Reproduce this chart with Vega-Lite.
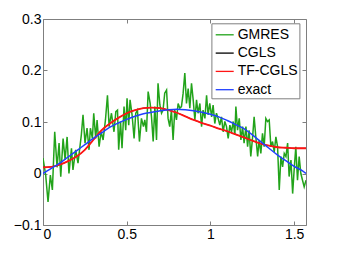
{
  "$schema": "https://vega.github.io/schema/vega-lite/v6.json",
  "width": 263,
  "height": 206,
  "autosize": {"type": "none"},
  "padding": {"left": 43, "top": 19, "right": 32, "bottom": 29},
  "background": "white",
  "config": {
    "view": {"stroke": null},
    "font": "Liberation Sans",
    "axis": {
      "domainColor": "#7f7f7f",
      "domainWidth": 1,
      "tickColor": "#7f7f7f",
      "tickSize": -4,
      "tickWidth": 1,
      "labelFont": "Liberation Sans",
      "labelFontSize": 14,
      "labelColor": "#000000",
      "labelPadding": 6,
      "grid": false,
      "title": null
    }
  },
  "datasets": {
    "gmres": [
      {"s":"GMRES","x":0.000,"y":0.030},{"s":"GMRES","x":0.016,"y":-0.003},{"s":"GMRES","x":0.030,"y":-0.055},{"s":"GMRES","x":0.044,"y":-0.003},
      {"s":"GMRES","x":0.056,"y":-0.032},{"s":"GMRES","x":0.070,"y":0.081},{"s":"GMRES","x":0.084,"y":0.012},{"s":"GMRES","x":0.096,"y":0.059},
      {"s":"GMRES","x":0.106,"y":-0.006},{"s":"GMRES","x":0.120,"y":0.068},{"s":"GMRES","x":0.132,"y":0.027},{"s":"GMRES","x":0.144,"y":0.071},
      {"s":"GMRES","x":0.155,"y":0.000},{"s":"GMRES","x":0.170,"y":0.049},{"s":"GMRES","x":0.179,"y":0.007},{"s":"GMRES","x":0.195,"y":0.046},
      {"s":"GMRES","x":0.209,"y":0.020},{"s":"GMRES","x":0.229,"y":0.075},{"s":"GMRES","x":0.239,"y":0.114},{"s":"GMRES","x":0.251,"y":0.059},
      {"s":"GMRES","x":0.263,"y":0.088},{"s":"GMRES","x":0.275,"y":0.046},{"s":"GMRES","x":0.283,"y":0.088},{"s":"GMRES","x":0.295,"y":0.068},
      {"s":"GMRES","x":0.303,"y":0.117},{"s":"GMRES","x":0.315,"y":0.068},{"s":"GMRES","x":0.323,"y":0.104},{"s":"GMRES","x":0.335,"y":0.052},
      {"s":"GMRES","x":0.347,"y":0.081},{"s":"GMRES","x":0.359,"y":0.065},{"s":"GMRES","x":0.373,"y":0.104},{"s":"GMRES","x":0.385,"y":0.152},
      {"s":"GMRES","x":0.395,"y":0.091},{"s":"GMRES","x":0.409,"y":0.117},{"s":"GMRES","x":0.424,"y":0.081},{"s":"GMRES","x":0.435,"y":0.120},
      {"s":"GMRES","x":0.445,"y":0.123},{"s":"GMRES","x":0.452,"y":0.046},{"s":"GMRES","x":0.463,"y":0.101},{"s":"GMRES","x":0.472,"y":0.049},
      {"s":"GMRES","x":0.484,"y":0.130},{"s":"GMRES","x":0.494,"y":0.084},{"s":"GMRES","x":0.502,"y":0.146},{"s":"GMRES","x":0.512,"y":0.094},
      {"s":"GMRES","x":0.520,"y":0.143},{"s":"GMRES","x":0.532,"y":0.114},{"s":"GMRES","x":0.544,"y":0.068},{"s":"GMRES","x":0.554,"y":0.117},
      {"s":"GMRES","x":0.564,"y":0.123},{"s":"GMRES","x":0.576,"y":0.062},{"s":"GMRES","x":0.588,"y":0.107},{"s":"GMRES","x":0.600,"y":0.091},
      {"s":"GMRES","x":0.608,"y":0.104},{"s":"GMRES","x":0.618,"y":0.081},{"s":"GMRES","x":0.628,"y":0.159},{"s":"GMRES","x":0.640,"y":0.136},
      {"s":"GMRES","x":0.648,"y":0.110},{"s":"GMRES","x":0.658,"y":0.062},{"s":"GMRES","x":0.668,"y":0.130},{"s":"GMRES","x":0.678,"y":0.065},
      {"s":"GMRES","x":0.687,"y":0.175},{"s":"GMRES","x":0.698,"y":0.133},{"s":"GMRES","x":0.708,"y":0.117},{"s":"GMRES","x":0.717,"y":0.123},
      {"s":"GMRES","x":0.727,"y":0.156},{"s":"GMRES","x":0.738,"y":0.162},{"s":"GMRES","x":0.747,"y":0.107},{"s":"GMRES","x":0.757,"y":0.091},
      {"s":"GMRES","x":0.767,"y":0.123},{"s":"GMRES","x":0.777,"y":0.065},{"s":"GMRES","x":0.787,"y":0.123},{"s":"GMRES","x":0.797,"y":0.104},
      {"s":"GMRES","x":0.807,"y":0.136},{"s":"GMRES","x":0.817,"y":0.127},{"s":"GMRES","x":0.827,"y":0.130},{"s":"GMRES","x":0.837,"y":0.156},
      {"s":"GMRES","x":0.847,"y":0.195},{"s":"GMRES","x":0.857,"y":0.136},{"s":"GMRES","x":0.867,"y":0.165},{"s":"GMRES","x":0.877,"y":0.127},
      {"s":"GMRES","x":0.887,"y":0.175},{"s":"GMRES","x":0.897,"y":0.143},{"s":"GMRES","x":0.907,"y":0.104},{"s":"GMRES","x":0.917,"y":0.143},
      {"s":"GMRES","x":0.926,"y":0.117},{"s":"GMRES","x":0.937,"y":0.136},{"s":"GMRES","x":0.947,"y":0.091},{"s":"GMRES","x":0.956,"y":0.123},
      {"s":"GMRES","x":0.967,"y":0.107},{"s":"GMRES","x":0.977,"y":0.152},{"s":"GMRES","x":0.986,"y":0.114},{"s":"GMRES","x":0.996,"y":0.136},
      {"s":"GMRES","x":1.007,"y":0.110},{"s":"GMRES","x":1.016,"y":0.133},{"s":"GMRES","x":1.026,"y":0.097},{"s":"GMRES","x":1.036,"y":0.117},
      {"s":"GMRES","x":1.046,"y":0.107},{"s":"GMRES","x":1.056,"y":0.094},{"s":"GMRES","x":1.066,"y":0.110},{"s":"GMRES","x":1.076,"y":0.081},
      {"s":"GMRES","x":1.086,"y":0.101},{"s":"GMRES","x":1.096,"y":0.091},{"s":"GMRES","x":1.106,"y":0.068},{"s":"GMRES","x":1.116,"y":0.094},
      {"s":"GMRES","x":1.126,"y":0.081},{"s":"GMRES","x":1.136,"y":0.101},{"s":"GMRES","x":1.146,"y":0.075},{"s":"GMRES","x":1.152,"y":0.130},
      {"s":"GMRES","x":1.162,"y":0.084},{"s":"GMRES","x":1.172,"y":0.107},{"s":"GMRES","x":1.182,"y":0.065},{"s":"GMRES","x":1.192,"y":0.091},
      {"s":"GMRES","x":1.201,"y":0.059},{"s":"GMRES","x":1.212,"y":0.091},{"s":"GMRES","x":1.222,"y":0.052},{"s":"GMRES","x":1.231,"y":0.084},
      {"s":"GMRES","x":1.241,"y":0.033},{"s":"GMRES","x":1.252,"y":0.071},{"s":"GMRES","x":1.261,"y":0.110},{"s":"GMRES","x":1.271,"y":0.071},
      {"s":"GMRES","x":1.282,"y":0.033},{"s":"GMRES","x":1.291,"y":0.065},{"s":"GMRES","x":1.301,"y":0.039},{"s":"GMRES","x":1.311,"y":0.078},
      {"s":"GMRES","x":1.321,"y":0.052},{"s":"GMRES","x":1.331,"y":0.107},{"s":"GMRES","x":1.341,"y":0.101},{"s":"GMRES","x":1.351,"y":0.104},
      {"s":"GMRES","x":1.361,"y":0.052},{"s":"GMRES","x":1.371,"y":0.062},{"s":"GMRES","x":1.381,"y":0.042},{"s":"GMRES","x":1.391,"y":0.071},
      {"s":"GMRES","x":1.401,"y":0.052},{"s":"GMRES","x":1.411,"y":-0.032},{"s":"GMRES","x":1.421,"y":0.033},{"s":"GMRES","x":1.431,"y":0.013},
      {"s":"GMRES","x":1.441,"y":0.039},{"s":"GMRES","x":1.451,"y":0.033},{"s":"GMRES","x":1.461,"y":0.059},{"s":"GMRES","x":1.470,"y":-0.006},
      {"s":"GMRES","x":1.481,"y":0.026},{"s":"GMRES","x":1.491,"y":-0.039},{"s":"GMRES","x":1.500,"y":0.007},{"s":"GMRES","x":1.510,"y":0.052},
      {"s":"GMRES","x":1.520,"y":-0.013},{"s":"GMRES","x":1.530,"y":0.033},{"s":"GMRES","x":1.540,"y":0.000},{"s":"GMRES","x":1.550,"y":-0.013},
      {"s":"GMRES","x":1.560,"y":-0.026},{"s":"GMRES","x":1.5708,"y":-0.013}
    ],
    "cgls": [
      {"s":"CGLS","x":0.00,"y":0.012},{"s":"CGLS","x":0.05,"y":0.013},{"s":"CGLS","x":0.10,"y":0.017},{"s":"CGLS","x":0.15,"y":0.024},
      {"s":"CGLS","x":0.20,"y":0.033},{"s":"CGLS","x":0.25,"y":0.046},{"s":"CGLS","x":0.30,"y":0.065},{"s":"CGLS","x":0.35,"y":0.084},
      {"s":"CGLS","x":0.40,"y":0.097},{"s":"CGLS","x":0.45,"y":0.108},{"s":"CGLS","x":0.50,"y":0.117},{"s":"CGLS","x":0.55,"y":0.123},
      {"s":"CGLS","x":0.60,"y":0.127},{"s":"CGLS","x":0.65,"y":0.128},{"s":"CGLS","x":0.70,"y":0.127},{"s":"CGLS","x":0.75,"y":0.123},
      {"s":"CGLS","x":0.80,"y":0.118},{"s":"CGLS","x":0.85,"y":0.111},{"s":"CGLS","x":0.90,"y":0.104},{"s":"CGLS","x":0.95,"y":0.098},
      {"s":"CGLS","x":1.00,"y":0.093},{"s":"CGLS","x":1.05,"y":0.087},{"s":"CGLS","x":1.10,"y":0.082},{"s":"CGLS","x":1.15,"y":0.076},
      {"s":"CGLS","x":1.20,"y":0.070},{"s":"CGLS","x":1.25,"y":0.064},{"s":"CGLS","x":1.30,"y":0.058},{"s":"CGLS","x":1.35,"y":0.054},
      {"s":"CGLS","x":1.40,"y":0.051},{"s":"CGLS","x":1.45,"y":0.050},{"s":"CGLS","x":1.50,"y":0.049},{"s":"CGLS","x":1.5708,"y":0.049}
    ],
    "tfcgls": [
      {"s":"TF-CGLS","x":0.00,"y":0.012},{"s":"TF-CGLS","x":0.05,"y":0.013},{"s":"TF-CGLS","x":0.10,"y":0.017},{"s":"TF-CGLS","x":0.15,"y":0.024},
      {"s":"TF-CGLS","x":0.20,"y":0.033},{"s":"TF-CGLS","x":0.25,"y":0.046},{"s":"TF-CGLS","x":0.30,"y":0.065},{"s":"TF-CGLS","x":0.35,"y":0.084},
      {"s":"TF-CGLS","x":0.40,"y":0.097},{"s":"TF-CGLS","x":0.45,"y":0.108},{"s":"TF-CGLS","x":0.50,"y":0.117},{"s":"TF-CGLS","x":0.55,"y":0.123},
      {"s":"TF-CGLS","x":0.60,"y":0.127},{"s":"TF-CGLS","x":0.65,"y":0.128},{"s":"TF-CGLS","x":0.70,"y":0.127},{"s":"TF-CGLS","x":0.75,"y":0.123},
      {"s":"TF-CGLS","x":0.80,"y":0.118},{"s":"TF-CGLS","x":0.85,"y":0.111},{"s":"TF-CGLS","x":0.90,"y":0.104},{"s":"TF-CGLS","x":0.95,"y":0.098},
      {"s":"TF-CGLS","x":1.00,"y":0.093},{"s":"TF-CGLS","x":1.05,"y":0.087},{"s":"TF-CGLS","x":1.10,"y":0.082},{"s":"TF-CGLS","x":1.15,"y":0.076},
      {"s":"TF-CGLS","x":1.20,"y":0.070},{"s":"TF-CGLS","x":1.25,"y":0.064},{"s":"TF-CGLS","x":1.30,"y":0.058},{"s":"TF-CGLS","x":1.35,"y":0.054},
      {"s":"TF-CGLS","x":1.40,"y":0.051},{"s":"TF-CGLS","x":1.45,"y":0.050},{"s":"TF-CGLS","x":1.50,"y":0.049},{"s":"TF-CGLS","x":1.5708,"y":0.049}
    ],
    "exact": [
      {"s":"exact","x":0.00,"y":0.000},{"s":"exact","x":0.05,"y":0.010},{"s":"exact","x":0.10,"y":0.020},{"s":"exact","x":0.15,"y":0.032},
      {"s":"exact","x":0.20,"y":0.044},{"s":"exact","x":0.25,"y":0.056},{"s":"exact","x":0.30,"y":0.068},{"s":"exact","x":0.35,"y":0.079},
      {"s":"exact","x":0.40,"y":0.090},{"s":"exact","x":0.45,"y":0.098},{"s":"exact","x":0.50,"y":0.105},{"s":"exact","x":0.55,"y":0.111},
      {"s":"exact","x":0.60,"y":0.116},{"s":"exact","x":0.65,"y":0.119},{"s":"exact","x":0.70,"y":0.122},{"s":"exact","x":0.75,"y":0.124},
      {"s":"exact","x":0.80,"y":0.125},{"s":"exact","x":0.85,"y":0.124},{"s":"exact","x":0.90,"y":0.122},{"s":"exact","x":0.95,"y":0.119},
      {"s":"exact","x":1.00,"y":0.115},{"s":"exact","x":1.05,"y":0.110},{"s":"exact","x":1.10,"y":0.103},{"s":"exact","x":1.15,"y":0.095},
      {"s":"exact","x":1.20,"y":0.087},{"s":"exact","x":1.25,"y":0.075},{"s":"exact","x":1.30,"y":0.062},{"s":"exact","x":1.35,"y":0.049},
      {"s":"exact","x":1.40,"y":0.036},{"s":"exact","x":1.45,"y":0.025},{"s":"exact","x":1.50,"y":0.014},{"s":"exact","x":1.55,"y":0.005},
      {"s":"exact","x":1.5708,"y":0.000}
    ]
  },
  "resolve": {"axis": {"x": "independent", "y": "independent"}},
  "layer": [
    {
      "data": {"name": "gmres"},
      "mark": {"type": "line", "strokeWidth": 1.5, "clip": true},
      "encoding": {
        "x": {"field": "x", "type": "quantitative", "scale": {"domain": [0, 1.5708], "nice": false, "zero": false},
              "axis": {"orient": "bottom", "values": [0, 0.5, 1, 1.5], "format": "~g"}},
        "y": {"field": "y", "type": "quantitative", "scale": {"domain": [-0.1, 0.3], "nice": false, "zero": false},
              "axis": {"orient": "left", "values": [-0.1, 0, 0.1, 0.2, 0.3], "format": "~g"}},
        "color": {"field": "s", "type": "nominal",
                  "scale": {"domain": ["GMRES", "CGLS", "TF-CGLS", "exact"], "range": ["#22a31a", "#000000", "#ff1414", "#2040ff"]},
                  "legend": {"title": null, "orient": "none", "legendX": 168.4, "legendY": 4.3,
                             "strokeColor": "#7f7f7f", "fillColor": "white", "padding": 1.5,
                             "symbolType": "stroke", "symbolSize": 324, "symbolStrokeWidth": 1.3, "symbolOffset": 1.8,
                             "labelFont": "Liberation Sans", "labelFontSize": 14, "labelColor": "#000000", "labelOffset": 3,
                             "rowPadding": 1.3, "labelLimit": 200}}
      }
    },
    {
      "data": {"name": "cgls"},
      "mark": {"type": "line", "strokeWidth": 0.8, "clip": true, "interpolate": "monotone"},
      "encoding": {
        "x": {"field": "x", "type": "quantitative", "axis": {"orient": "top", "values": [0, 0.5, 1, 1.5], "labels": false}},
        "y": {"field": "y", "type": "quantitative", "axis": {"orient": "right", "values": [-0.1, 0, 0.1, 0.2, 0.3], "labels": false}},
        "color": {"field": "s", "type": "nominal"}
      }
    },
    {
      "data": {"name": "tfcgls"},
      "mark": {"type": "line", "strokeWidth": 1.8, "clip": true, "interpolate": "monotone"},
      "encoding": {
        "x": {"field": "x", "type": "quantitative", "axis": null},
        "y": {"field": "y", "type": "quantitative", "axis": null},
        "color": {"field": "s", "type": "nominal"}
      }
    },
    {
      "data": {"name": "exact"},
      "mark": {"type": "line", "strokeWidth": 1.5, "clip": true, "interpolate": "monotone"},
      "encoding": {
        "x": {"field": "x", "type": "quantitative", "axis": null},
        "y": {"field": "y", "type": "quantitative", "axis": null},
        "color": {"field": "s", "type": "nominal"}
      }
    }
  ]
}
